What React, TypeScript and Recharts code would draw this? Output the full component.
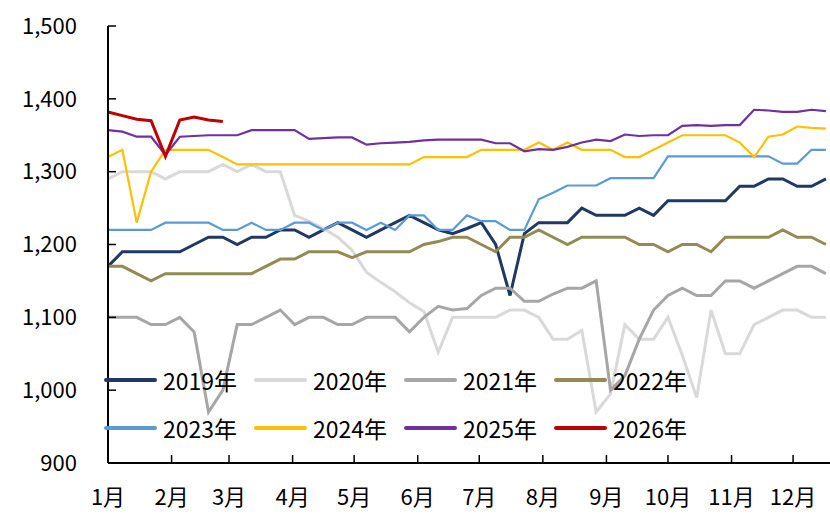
import { LineChart, Line, XAxis, YAxis } from "recharts";

// week index -> day of year (7 * i)
const weeks = Array.from({ length: 51 }, (_, i) => i * 7);

const monthStarts = [0, 31, 59, 90, 120, 151, 181, 212, 243, 273, 304, 334];
const monthLabels = ["1月", "2月", "3月", "4月", "5月", "6月", "7月", "8月", "9月", "10月", "11月", "12月"];
const yTicks = [900, 1000, 1100, 1200, 1300, 1400, 1500];

const y2019 = [1170, 1190, 1190, 1190, 1190, 1190, 1200, 1210, 1210, 1200, 1210, 1210, 1220, 1220, 1210, 1220, 1230, 1220, 1210, 1220, 1230, 1240, 1230, 1220, 1215, 1222, 1230, 1200, 1130, 1215, 1230, 1230, 1230, 1250, 1240, 1240, 1240, 1250, 1240, 1260, 1260, 1260, 1260, 1260, 1280, 1280, 1290, 1290, 1280, 1280, 1290];
const y2020 = [1290, 1300, 1300, 1300, 1290, 1300, 1300, 1300, 1310, 1300, 1310, 1300, 1300, 1240, 1232, 1222, 1210, 1192, 1162, 1148, 1135, 1120, 1108, 1052, 1100, 1100, 1100, 1100, 1110, 1110, 1100, 1070, 1070, 1082, 970, 995, 1090, 1070, 1070, 1100, 1048, 990, 1110, 1050, 1050, 1090, 1100, 1110, 1110, 1100, 1100];
const y2021 = [1100, 1100, 1100, 1090, 1090, 1100, 1080, 970, 1000, 1090, 1090, 1100, 1110, 1090, 1100, 1100, 1090, 1090, 1100, 1100, 1100, 1080, 1100, 1115, 1110, 1112, 1130, 1140, 1140, 1122, 1122, 1132, 1140, 1140, 1150, 1000, 1020, 1070, 1110, 1130, 1140, 1130, 1130, 1150, 1150, 1140, 1150, 1160, 1170, 1170, 1160];
const y2022 = [1170, 1170, 1160, 1150, 1160, 1160, 1160, 1160, 1160, 1160, 1160, 1170, 1180, 1180, 1190, 1190, 1190, 1182, 1190, 1190, 1190, 1190, 1200, 1204, 1210, 1210, 1200, 1190, 1210, 1210, 1220, 1210, 1200, 1210, 1210, 1210, 1210, 1200, 1200, 1190, 1200, 1200, 1190, 1210, 1210, 1210, 1210, 1220, 1210, 1210, 1200];
const y2023 = [1220, 1220, 1220, 1220, 1230, 1230, 1230, 1230, 1220, 1220, 1230, 1220, 1220, 1230, 1230, 1220, 1230, 1230, 1220, 1230, 1220, 1240, 1240, 1220, 1220, 1240, 1232, 1232, 1220, 1220, 1262, 1271, 1281, 1281, 1281, 1291, 1291, 1291, 1291, 1321, 1321, 1321, 1321, 1321, 1321, 1321, 1321, 1311, 1311, 1330, 1330];
const y2024 = [1320, 1330, 1230, 1300, 1330, 1330, 1330, 1330, 1320, 1310, 1310, 1310, 1310, 1310, 1310, 1310, 1310, 1310, 1310, 1310, 1310, 1310, 1320, 1320, 1320, 1320, 1330, 1330, 1330, 1330, 1340, 1330, 1340, 1330, 1330, 1330, 1320, 1320, 1330, 1340, 1350, 1350, 1350, 1350, 1340, 1320, 1348, 1351, 1362, 1360, 1359];
const y2025 = [1357, 1355, 1348, 1348, 1323, 1348, 1349, 1350, 1350, 1350, 1357, 1357, 1357, 1357, 1345, 1346, 1347, 1347, 1337, 1339, 1340, 1341, 1343, 1344, 1344, 1344, 1344, 1339, 1339, 1328, 1331, 1330, 1334, 1340, 1344, 1342, 1351, 1349, 1350, 1350, 1363, 1364, 1363, 1364, 1364, 1385, 1384, 1382, 1382, 1385, 1383];
const y2026 = [1382, 1377, 1372, 1370, 1321, 1371, 1375, 1371, 1369];

const seriesKeys = ["2019年", "2020年", "2021年", "2022年", "2023年", "2024年", "2025年", "2026年"];
const seriesValues = [y2019, y2020, y2021, y2022, y2023, y2024, y2025, y2026];
const seriesColors = ["#1f3864", "#d9d9d9", "#a6a6a6", "#948a54", "#5b9bd5", "#ffc000", "#7030a0", "#c00000"];
const seriesWidths = [3, 3, 3, 3, 2.2, 2.2, 2.2, 3];

const data = weeks.map((day, i) => {
  const row: any = { day };
  seriesKeys.forEach((k, s) => {
    if (i < seriesValues[s].length) row[k] = seriesValues[s][i];
  });
  return row;
});

const FONT = "'Noto Sans CJK SC', 'Noto Sans', sans-serif";

const LegendBox = () => (
  <div style={{ position: "absolute", left: 104, top: 356, width: 640, fontFamily: FONT }}>
    {[0, 1].map((row) => (
      <div key={row} style={{ display: "flex", height: 48, alignItems: "center" }}>
        {seriesKeys.slice(row * 4, row * 4 + 4).map((k, j) => {
          const s = row * 4 + j;
          return (
            <div key={k} style={{ width: 150, display: "flex", alignItems: "center" }}>
              <div style={{ width: 53, height: seriesWidths[s] + 1, background: seriesColors[s], borderRadius: 2 }} />
              <span style={{ marginLeft: 6, fontSize: 23, color: "#000", lineHeight: "28px" }}>{k}</span>
            </div>
          );
        })}
      </div>
    ))}
  </div>
);

export default function App() {
  return (
    <div style={{ position: "absolute", left: 0, top: 0, width: 830, height: 517, overflow: "hidden", background: "#fff" }}>
      <LineChart width={830} height={517} data={data} margin={{ top: 26, right: 0, bottom: 0, left: 0 }}>
        <XAxis
          dataKey="day"
          type="number"
          domain={[0, 352]}
          ticks={monthStarts}
          tickFormatter={(v: number) => monthLabels[monthStarts.indexOf(v)]}
          height={54}
          tickSize={-8}
          tickMargin={34}
          interval={0}
          axisLine={{ stroke: "#000", strokeWidth: 2 }}
          tickLine={{ stroke: "#000", strokeWidth: 1.5 }}
          tick={{ fill: "#000", fontSize: 22, fontFamily: FONT }}
        />
        <YAxis
          type="number"
          domain={[900, 1500]}
          ticks={yTicks}
          width={108}
          tickSize={-8}
          tickMargin={39}
          interval={0}
          tickFormatter={(v: number) => v.toLocaleString("en-US")}
          axisLine={{ stroke: "#000", strokeWidth: 2 }}
          tickLine={{ stroke: "#000", strokeWidth: 1.5 }}
          tick={{ fill: "#000", fontSize: 22, fontFamily: FONT }}
        />
        {seriesKeys.map((k, s) => (
          <Line
            key={k}
            type="linear"
            dataKey={k}
            stroke={seriesColors[s]}
            strokeWidth={seriesWidths[s]}
            dot={false}
            activeDot={false}
            connectNulls={false}
            isAnimationActive={false}
          />
        ))}
      </LineChart>
      <LegendBox />
    </div>
  );
}
